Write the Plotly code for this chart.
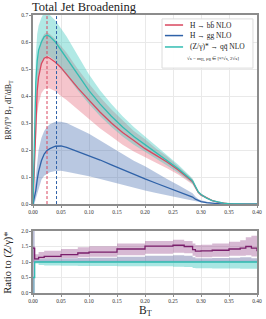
import plotly.graph_objects as go

# ---- main panel data ----
bt = [0.0, 0.0025, 0.005, 0.0075, 0.01, 0.015, 0.02, 0.025, 0.03, 0.04, 0.05, 0.06, 0.08, 0.10,
      0.12, 0.14, 0.16, 0.18, 0.20, 0.22, 0.24, 0.26, 0.28, 0.285, 0.29, 0.295, 0.30, 0.31,
      0.32, 0.33, 0.34, 0.35, 0.36, 0.38, 0.40]

z_nlo = [0.0, 0.25, 0.45, 0.53, 0.57, 0.60, 0.62, 0.626, 0.62, 0.60, 0.57, 0.54, 0.48, 0.42,
         0.37, 0.325, 0.285, 0.25, 0.22, 0.19, 0.16, 0.13, 0.095, 0.085, 0.065, 0.045, 0.035, 0.022,
         0.013, 0.007, 0.003, 0.001, 0.0, 0.0, 0.0]
z_up = [0.0, 0.33, 0.55, 0.63, 0.66, 0.69, 0.71, 0.71, 0.70, 0.68, 0.65, 0.62, 0.55, 0.48,
        0.42, 0.37, 0.325, 0.285, 0.25, 0.215, 0.18, 0.145, 0.105, 0.094, 0.072, 0.05, 0.039, 0.025,
        0.015, 0.008, 0.0035, 0.0012, 0.0, 0.0, 0.0]
z_lo = [0.0, 0.18, 0.37, 0.44, 0.48, 0.52, 0.54, 0.55, 0.545, 0.53, 0.50, 0.475, 0.42, 0.37,
        0.325, 0.285, 0.25, 0.22, 0.195, 0.168, 0.142, 0.115, 0.085, 0.076, 0.058, 0.04, 0.031, 0.02,
        0.011, 0.006, 0.0025, 0.0008, 0.0, 0.0, 0.0]

bb_nlo = [0.0, 0.15, 0.33, 0.42, 0.47, 0.52, 0.54, 0.545, 0.54, 0.525, 0.505, 0.48, 0.43, 0.385,
          0.34, 0.30, 0.265, 0.235, 0.205, 0.18, 0.155, 0.125, 0.092, 0.083, 0.063, 0.044, 0.034, 0.022,
          0.013, 0.007, 0.003, 0.001, 0.0, 0.0, 0.0]
bb_up = [0.0, 0.2, 0.42, 0.52, 0.57, 0.61, 0.63, 0.635, 0.63, 0.61, 0.585, 0.56, 0.50, 0.445,
         0.395, 0.35, 0.31, 0.27, 0.24, 0.205, 0.175, 0.14, 0.103, 0.093, 0.07, 0.049, 0.038, 0.025,
         0.015, 0.008, 0.0035, 0.0012, 0.0, 0.0, 0.0]
bb_lo = [0.0, 0.1, 0.25, 0.33, 0.37, 0.41, 0.425, 0.43, 0.428, 0.418, 0.40, 0.385, 0.35, 0.315,
         0.28, 0.25, 0.22, 0.195, 0.175, 0.155, 0.132, 0.108, 0.08, 0.072, 0.055, 0.039, 0.03, 0.019,
         0.011, 0.006, 0.0025, 0.0008, 0.0, 0.0, 0.0]

gg_nlo = [0.0, 0.02, 0.05, 0.09, 0.12, 0.16, 0.185, 0.198, 0.205, 0.214, 0.215, 0.21, 0.195, 0.18,
          0.163, 0.145, 0.127, 0.11, 0.093, 0.077, 0.061, 0.046, 0.03, 0.026, 0.018, 0.012, 0.009, 0.005,
          0.003, 0.001, 0.0, 0.0, 0.0, 0.0, 0.0]
gg_up = [0.0, 0.05, 0.12, 0.17, 0.2, 0.245, 0.27, 0.285, 0.295, 0.305, 0.305, 0.30, 0.28, 0.26,
         0.235, 0.21, 0.185, 0.16, 0.14, 0.115, 0.092, 0.07, 0.046, 0.04, 0.028, 0.019, 0.014, 0.008,
         0.004, 0.002, 0.0, 0.0, 0.0, 0.0, 0.0]
gg_lo = [0.0, 0.0, 0.02, 0.04, 0.06, 0.09, 0.105, 0.112, 0.118, 0.122, 0.123, 0.12, 0.112, 0.103,
         0.093, 0.082, 0.07, 0.06, 0.05, 0.041, 0.032, 0.024, 0.015, 0.013, 0.009, 0.006, 0.004, 0.002,
         0.001, 0.0, 0.0, 0.0, 0.0, 0.0, 0.0]

peak_bb = 0.025
peak_gg = 0.042

# ---- ratio panel data ----
rx = [0.0, 0.003, 0.01, 0.02, 0.05, 0.08, 0.10, 0.15, 0.20, 0.25, 0.27, 0.285, 0.29, 0.30,
      0.32, 0.35, 0.37, 0.38, 0.39, 0.40]
r_mid = [1.45, 1.1, 1.15, 1.18, 1.24, 1.29, 1.32, 1.42, 1.51, 1.54, 1.5, 1.4, 1.35, 1.36,
         1.38, 1.42, 1.45, 1.5, 1.45, 1.35]
r_up = [1.5, 1.25, 1.32, 1.36, 1.42, 1.48, 1.51, 1.6, 1.68, 1.72, 1.68, 1.6, 1.55, 1.56,
        1.6, 1.65, 1.7, 1.8, 1.85, 1.75]
r_lo = [1.0, 1.08, 1.1, 1.11, 1.13, 1.15, 1.17, 1.22, 1.27, 1.3, 1.28, 1.2, 1.15, 1.15,
        1.17, 1.2, 1.2, 1.22, 1.18, 1.15]
s_up = [2.0, 1.1, 1.1, 1.11, 1.12, 1.13, 1.14, 1.17, 1.2, 1.22, 1.2, 1.15, 1.12, 1.12,
        1.13, 1.14, 1.15, 1.15, 1.12, 1.1]
s_lo = [0.0, 1.0, 1.0, 1.0, 1.0, 1.0, 1.0, 1.0, 1.0, 1.0, 1.0, 1.0, 1.0, 1.0,
        1.0, 1.0, 1.0, 1.0, 1.0, 1.0]
t_mid = [0.5, 1.0, 1.0, 1.0, 1.0, 1.0, 1.0, 1.0, 1.0, 1.0, 1.0, 1.0, 1.0, 1.0,
         1.0, 1.0, 1.0, 1.0, 1.0, 1.0]
t_up = [0.5, 1.04, 1.04, 1.04, 1.04, 1.04, 1.04, 1.04, 1.04, 1.04, 1.04, 1.04, 1.04, 1.04,
        1.04, 1.04, 1.04, 1.04, 1.04, 1.04]
t_lo = [0.0, 0.95, 0.9, 0.89, 0.88, 0.875, 0.87, 0.865, 0.86, 0.85, 0.84, 0.81, 0.8, 0.8,
        0.79, 0.79, 0.785, 0.78, 0.78, 0.78]

legend_labels = ["H → bb̄ NLO", "H → gg NLO", "(Z/γ)* → qq̄ NLO"]
legend_note = "√s = m<sub>H</sub>, μ<sub>R</sub> ∈ [½√s, 2√s]"

RED = "#d9475f"
BLUE = "#2f62a8"
TEAL = "#33bdb2"
PURP = "#7a1f6b"
FONT = "Liberation Serif"

fig = go.Figure()


def band(x, lo, up, color, xa="x", ya="y", shape="linear"):
    fig.add_trace(go.Scatter(x=x, y=lo, mode="lines", line=dict(width=0, shape=shape),
                             showlegend=False, hoverinfo="skip", xaxis=xa, yaxis=ya))
    fig.add_trace(go.Scatter(x=x, y=up, mode="lines", line=dict(width=0, shape=shape),
                             fill="tonexty", fillcolor=color, showlegend=False,
                             hoverinfo="skip", xaxis=xa, yaxis=ya))


band(bt, gg_lo, gg_up, "rgba(70,110,175,0.38)")
band(bt, bb_lo, bb_up, "rgba(225,90,110,0.35)")
band(bt, z_lo, z_up, "rgba(60,200,190,0.40)")

fig.add_trace(go.Scatter(x=bt, y=bb_nlo, mode="lines", line=dict(color=RED, width=1.3), name=legend_labels[0]))
fig.add_trace(go.Scatter(x=bt, y=gg_nlo, mode="lines", line=dict(color=BLUE, width=1.3), name=legend_labels[1]))
fig.add_trace(go.Scatter(x=bt, y=z_nlo, mode="lines", line=dict(color=TEAL, width=1.3), name=legend_labels[2]))

fig.add_trace(go.Scatter(x=[peak_bb, peak_bb], y=[0, 0.7], mode="lines",
                         line=dict(color=RED, width=1, dash="3px,2px")))
fig.add_trace(go.Scatter(x=[peak_gg, peak_gg], y=[0, 0.7], mode="lines",
                         line=dict(color=BLUE, width=1, dash="3px,2px")))

# ratio panel
band(rx, t_lo, t_up, "rgba(60,200,190,0.45)", "x2", "y2", "hv")
band(rx, s_lo, s_up, "rgba(105,110,165,0.45)", "x2", "y2", "hv")
band(rx, r_lo, r_up, "rgba(150,70,140,0.38)", "x2", "y2", "hv")
fig.add_trace(go.Scatter(x=rx, y=t_mid, mode="lines", line=dict(color=TEAL, width=1.3, shape="hv"),
                         xaxis="x2", yaxis="y2"))
fig.add_trace(go.Scatter(x=rx, y=r_mid, mode="lines", line=dict(color=PURP, width=1.3, shape="hv"),
                         xaxis="x2", yaxis="y2"))

axis_common = dict(showgrid=True, gridcolor="#e9e9e9", gridwidth=1, zeroline=False,
                   showline=True, linecolor="#8c8c8c", linewidth=1.5, mirror=True,
                   ticks="outside", ticklen=2, tickcolor="#8c8c8c", automargin=False,
                   tickfont=dict(family=FONT, size=5.5, color="#333"))

xt = [0, 0.05, 0.1, 0.15, 0.2, 0.25, 0.3, 0.35, 0.4]

# manual legend (paper coordinates)
shapes = [dict(type="rect", xref="paper", yref="paper", x0=0.576, x1=0.982, y0=0.809, y1=0.986,
               line=dict(color="#dcdcdc", width=1), fillcolor="rgba(255,255,255,0.92)", layer="above")]
annotations = []
row_y = [0.964, 0.926, 0.885]
for yy, col, lab in zip(row_y, [RED, BLUE, TEAL], legend_labels):
    shapes.append(dict(type="line", xref="paper", yref="paper", x0=0.589, x1=0.670, y0=yy, y1=yy,
                       line=dict(color=col, width=1.5), layer="above"))
    annotations.append(dict(text=lab, xref="paper", yref="paper", x=0.692, y=yy, xanchor="left",
                            yanchor="middle", showarrow=False, font=dict(family=FONT, size=7.5, color="#222")))
annotations.append(dict(text=legend_note, xref="paper", yref="paper", x=0.678, y=0.842, xanchor="left",
                        yanchor="middle", showarrow=False, font=dict(family=FONT, size=5, color="#222")))

annotations += [
    dict(text="Total Jet Broadening", xref="paper", yref="paper", x=0.228, y=1.027,
         xanchor="center", yanchor="middle", showarrow=False,
         font=dict(family=FONT, size=12.5, color="#222")),
    dict(text="BR<sup>ρ</sup>/Γ<sup>ρ</sup> B<sub>T</sub> dΓ/dB<sub>T</sub>", xref="paper", yref="paper",
         x=-0.11, y=0.66, xanchor="center", yanchor="middle", textangle=-90, showarrow=False,
         font=dict(family=FONT, size=8, color="#222")),
    dict(text="Ratio to (Z/γ)*", xref="paper", yref="paper",
         x=-0.11, y=0.11, xanchor="center", yanchor="middle", textangle=-90, showarrow=False,
         font=dict(family=FONT, size=10.5, color="#222")),
    dict(text="B<sub>T</sub>", xref="paper", yref="paper",
         x=0.5, y=-0.064, xanchor="center", yanchor="middle", showarrow=False,
         font=dict(family=FONT, size=11.5, color="#222")),
]

fig.update_layout(
    width=266, height=319,
    margin=dict(l=33, r=9, t=15, b=26),
    paper_bgcolor="white", plot_bgcolor="white",
    font=dict(family=FONT, color="#222"),
    showlegend=False,
    xaxis=dict(range=[0, 0.4], domain=[0, 1], anchor="y", tickvals=xt, tickformat=".2f", **axis_common),
    yaxis=dict(range=[0, 0.7], domain=[0.32, 1.0], anchor="x",
               tickvals=[0, 0.1, 0.2, 0.3, 0.4, 0.5, 0.6, 0.7], tickformat=".1f", **axis_common),
    xaxis2=dict(range=[0, 0.4], domain=[0, 1], anchor="y2", tickvals=xt, tickformat=".2f", **axis_common),
    yaxis2=dict(range=[0, 2.0], domain=[0, 0.223], anchor="x2", tickvals=[0, 0.5, 1.0, 1.5, 2.0],
                tickformat=".1f", **axis_common),
    shapes=shapes,
    annotations=annotations,
)

fig.write_html("out.html", config={"displayModeBar": False},
               post_script="document.body.style.margin='0';")
